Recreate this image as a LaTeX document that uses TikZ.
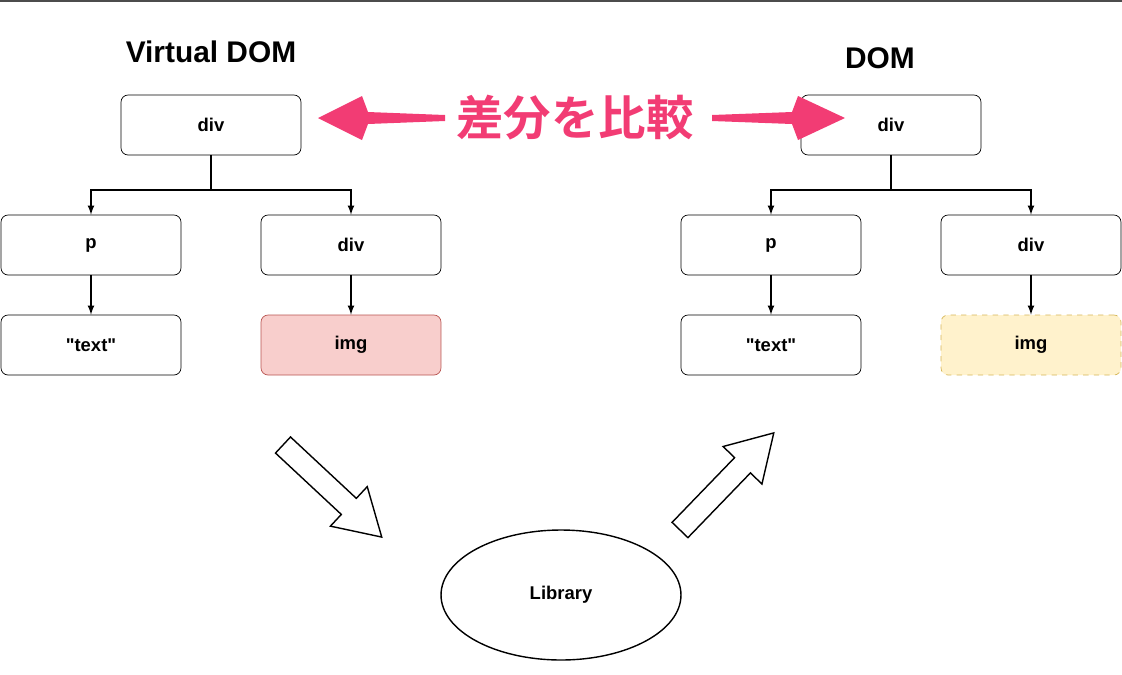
\documentclass[tikz,border=0pt]{standalone}
\usepackage{fontspec}
\setmainfont{Liberation Sans}[Ligatures=TeXOff]
\newfontfamily\cjk{Noto Sans CJK JP}[BoldFont={* Bold}]
\usetikzlibrary{shapes.geometric}
\definecolor{pinkarrow}{HTML}{F23C74}
\definecolor{redfill}{HTML}{F8CECC}
\definecolor{redline}{HTML}{B85450}
\definecolor{yellowfill}{HTML}{FFF2CC}
\definecolor{yellowline}{HTML}{D6B656}
\tikzset{
    box/.style={draw, rounded corners=4pt, minimum width=3.6cm, minimum height=1.2cm, font=\fontsize{10.5}{12}\selectfont\bfseries},
    title/.style={font=\fontsize{17}{20}\selectfont\bfseries},
    link/.style={-latex, line width=0.8pt},
}
\begin{document}
\begin{tikzpicture}[x=0.02cm, y=-0.02cm]
    \useasboundingbox (0,0) rectangle (1122,674);
    % Rahmen oben
    \fill[black!70] (0,0) rectangle (1122,2);

    % Titel
    \node[title] (vtitle) at (211,52) {Virtual DOM};
    \node[title] (dtitle) at (880,58) {DOM};

    % Virtual DOM Baum
    \node[box] (vdiv) at (211,125) {div};
    \node[box] (vp) at (91,245) {p};
    \node[box] (vdiv2) at (351,245) {div};
    \node[box] (vtext) at (91,345) {"text"};
    \node[box, fill=redfill, draw=redline] (vimg) at (351,345) {img};
    \coordinate (vj) at (211,190);
    \draw[link] (vdiv.south) -- (vj) -| (vp.north);
    \draw[link] (vj) -| (vdiv2.north);
    \draw[link] (vp) -- (vtext);
    \draw[link] (vdiv2) -- (vimg);

    % DOM Baum
    \node[box] (ddiv) at (891,125) {div};
    \node[box] (dp) at (771,245) {p};
    \node[box] (ddiv2) at (1031,245) {div};
    \node[box] (dtext) at (771,345) {"text"};
    \node[box, dashed, fill=yellowfill, draw=yellowline] (dimg) at (1031,345) {img};
    \coordinate (dj) at (891,190);
    \draw[link] (ddiv.south) -- (dj) -| (dp.north);
    \draw[link] (dj) -| (ddiv2.north);
    \draw[link] (dp) -- (dtext);
    \draw[link] (ddiv2) -- (dimg);

    % Library
    \node[draw, ellipse, line width=0.8pt, minimum width=4.8cm, minimum height=2.6cm,
          font=\fontsize{10.5}{12}\selectfont\bfseries] (lib) at (561,595) {Library};

    % Hohlpfeile
    \begin{scope}[shift={(283,445)}, rotate=-43]
        \draw[line width=0.8pt, fill=white] (0,-11) -- (90,-11) -- (90,-27) -- (135,0)
            -- (90,27) -- (90,11) -- (0,11) -- cycle;
    \end{scope}
    \begin{scope}[shift={(680,530)}, rotate=46]
        \draw[line width=0.8pt, fill=white] (0,-11) -- (90,-11) -- (90,-27) -- (135,0)
            -- (90,27) -- (90,11) -- (0,11) -- cycle;
    \end{scope}

    % Vergleich
    \node[font=\cjk\fontsize{27}{30}\selectfont\bfseries, text=pinkarrow] (diff) at (575,118) {差分を比較};
    \fill[pinkarrow] (445,115) -- (368,112) -- (362,96) -- (318,118) -- (362,140)
        -- (368,124) -- (445,121) -- cycle;
    \fill[pinkarrow] (712,115) -- (792,112) -- (798,96) -- (845,118) -- (798,140)
        -- (792,124) -- (712,121) -- cycle;
\end{tikzpicture}
\end{document}
